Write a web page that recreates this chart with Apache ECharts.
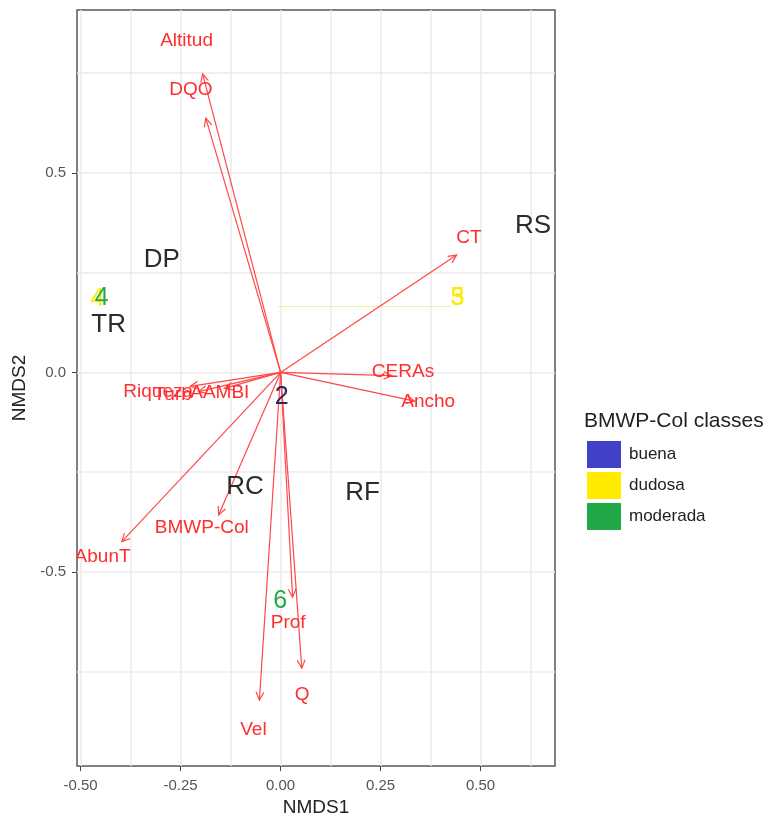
<!DOCTYPE html>
<html>
<head>
<meta charset="utf-8">
<script src="https://cdn.jsdelivr.net/npm/echarts@6/dist/echarts.min.js"></script>
<style>html,body{margin:0;padding:0;background:#fff}#c{width:770px;height:822px}</style>
</head>
<body>
<div id="c"></div>
<script>
// Axis ticks
const xTickLabels = [-0.5, -0.25, 0, 0.25, 0.5];
const xGridVals = [-0.5, -0.375, -0.25, -0.125, 0, 0.125, 0.25, 0.375, 0.5, 0.625];
const yTickLabels = [-0.5, 0, 0.5];
const yGridVals = [-0.75, -0.5, -0.25, 0, 0.25, 0.5, 0.75];

// Environmental vectors (arrow tips) and their label positions
const vecNames = ['Altitud', 'DQO', 'CT', 'CERAs', 'Ancho', 'Riqueza', 'Turb', 'AAMBI', 'AbunT', 'BMWP-Col', 'Prof', 'Q', 'Vel'];
const vecX = [-0.195, -0.187, 0.440, 0.278, 0.335, -0.226, -0.205, -0.140, -0.397, -0.155, 0.030, 0.053, -0.053];
const vecY = [0.748, 0.637, 0.294, -0.008, -0.072, -0.035, -0.048, -0.040, -0.424, -0.357, -0.563, -0.741, -0.821];
const labX = [-0.235, -0.224, 0.471, 0.306, 0.369, -0.306, -0.270, -0.152, -0.445, -0.197, 0.019, 0.054, -0.068];
const labY = [0.832, 0.708, 0.337, 0.002, -0.073, -0.048, -0.056, -0.052, -0.462, -0.390, -0.628, -0.808, -0.896];

// Site labels
const siteNames = ['DP', 'TR', 'RS', 'RC', 'RF'];
const siteX = [-0.297, -0.430, 0.631, -0.089, 0.205];
const siteY = [0.282, 0.119, 0.367, -0.286, -0.301];

// BMWP-Col class labels
const classNames = ['buena', 'dudosa', 'moderada'];
const classColors = ['#4141C8', '#FFEA00', '#22A847'];
const buenaText = ['2'];
const buenaX = [0.003];
const buenaY = [-0.061];
const dudosaText = ['4', '5', '3'];
const dudosaX = [-0.458, 0.442, 0.442];
const dudosaY = [0.184, 0.186, 0.186];
const moderadaText = ['4', '6'];
const moderadaX = [-0.447, -0.001];
const moderadaY = [0.186, -0.574];

// Yellow segment
const segX = [-0.006, 0.425];
const segY = [0.165, 0.165];

const FONT = '"Liberation Sans", Arial, sans-serif';

function textSeries(name, texts, xs, ys, color, size, z) {
  return {
    name: name,
    type: 'custom',
    coordinateSystem: 'cartesian2d',
    clip: true,
    z: z,
    itemStyle: { color: color },
    data: xs.map((x, i) => [x, ys[i]]),
    renderItem: function (params, api) {
      const p = api.coord([api.value(0), api.value(1)]);
      return {
        type: 'text',
        x: p[0], y: p[1],
        style: {
          text: texts[params.dataIndex],
          fill: color,
          font: size + 'px ' + FONT,
          align: 'center',
          verticalAlign: 'middle'
        }
      };
    }
  };
}

const chart = echarts.init(document.getElementById('c'));
const option = {
  backgroundColor: '#fff',
  animation: false,
  textStyle: { fontFamily: FONT },
  title: {
    text: 'BMWP-Col classes', left: 584, top: 411, padding: 0,
    textStyle: { fontSize: 21, fontWeight: 'normal', color: '#222', fontFamily: FONT }
  },
  legend: {
    data: classNames,
    orient: 'vertical', left: 587, top: 441, padding: 0,
    icon: 'rect', itemWidth: 34, itemHeight: 27, itemGap: 4,
    textStyle: { fontSize: 17, color: '#222', fontFamily: FONT, padding: [0, 0, 0, 3] },
    selectedMode: false
  },
  grid: {
    left: 77, right: 215, top: 10, bottom: 56,
    show: true, borderColor: '#555', borderWidth: 1.5, backgroundColor: 'transparent'
  },
  xAxis: [{
    type: 'value', min: -0.509, max: 0.686, position: 'bottom',
    name: 'NMDS1', nameLocation: 'middle', nameGap: 26,
    nameTextStyle: { fontSize: 19, color: '#222', fontFamily: FONT },
    axisLine: { show: false, onZero: false },
    axisTick: { show: true, customValues: xTickLabels, length: 5, lineStyle: { color: '#444' } },
    axisLabel: { customValues: xTickLabels, formatter: v => v.toFixed(2), fontSize: 15, color: '#555', margin: 12 },
    splitLine: { show: false }
  }, {
    type: 'value', min: -0.509, max: 0.686, position: 'top',
    axisLine: { show: false, onZero: false }, axisLabel: { show: false },
    axisTick: { show: false, customValues: xGridVals },
    splitLine: { show: true, lineStyle: { color: '#ebebeb', width: 1.5 } }
  }],
  yAxis: [{
    type: 'value', min: -0.986, max: 0.908, position: 'left',
    name: 'NMDS2', nameLocation: 'middle', nameGap: 45,
    nameTextStyle: { fontSize: 19, color: '#222', fontFamily: FONT },
    axisLine: { show: false, onZero: false },
    axisTick: { show: true, customValues: yTickLabels, length: 5, lineStyle: { color: '#444' } },
    axisLabel: { customValues: yTickLabels, formatter: v => v.toFixed(1), fontSize: 15, color: '#555', margin: 11 },
    splitLine: { show: false }
  }, {
    type: 'value', min: -0.986, max: 0.908, position: 'right',
    axisLine: { show: false, onZero: false }, axisLabel: { show: false },
    axisTick: { show: false, customValues: yGridVals },
    splitLine: { show: true, lineStyle: { color: '#ebebeb', width: 1.5 } }
  }],
  series: [
    {
      type: 'line', xAxisIndex: 0, yAxisIndex: 0, z: 2,
      data: segX.map((x, i) => [x, segY[i]]),
      symbol: 'none', lineStyle: { color: '#f4ef9c', width: 1 }, silent: true
    },
    {
      type: 'custom', z: 3, clip: true,
      data: vecX.map((x, i) => [x, vecY[i]]),
      renderItem: function (params, api) {
        const o = api.coord([0, 0]);
        const t = api.coord([api.value(0), api.value(1)]);
        const a = Math.atan2(t[1] - o[1], t[0] - o[0]);
        const L = 9, w = 0.45;
        const p1 = [t[0] - L * Math.cos(a - w), t[1] - L * Math.sin(a - w)];
        const p2 = [t[0] - L * Math.cos(a + w), t[1] - L * Math.sin(a + w)];
        const st = { stroke: '#FF4848', lineWidth: 1.2, fill: null };
        return {
          type: 'group',
          children: [
            { type: 'line', shape: { x1: o[0], y1: o[1], x2: t[0], y2: t[1] }, style: st },
            { type: 'polyline', shape: { points: [p1, t, p2] }, style: st }
          ]
        };
      }
    },
    textSeries('vectors', vecNames, labX, labY, '#FF2D2D', 19, 4),
    textSeries('sites', siteNames, siteX, siteY, '#2b2b2b', 26, 5),
    textSeries('dudosa', dudosaText, dudosaX, dudosaY, classColors[1], 25, 6),
    textSeries('moderada', moderadaText, moderadaX, moderadaY, classColors[2], 25, 7),
    textSeries('buena', buenaText, buenaX, buenaY, '#27275f', 25, 8)
  ]
};
// legend color for buena
option.series[6].itemStyle = { color: classColors[0] };
chart.setOption(option);
</script>
</body>
</html>
